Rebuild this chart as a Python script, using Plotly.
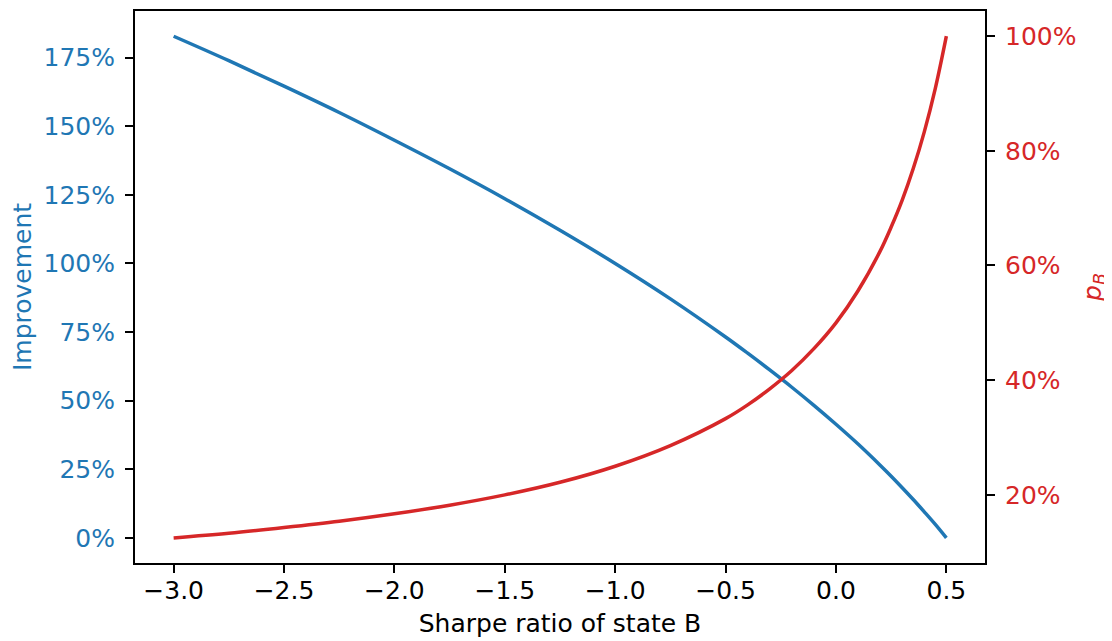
import plotly.graph_objects as go

# Sharpe ratio of state B (x values)
sharpe_b = [-3.0, -2.75, -2.5, -2.25, -2.0, -1.75, -1.5, -1.25, -1.0, -0.75, -0.5,
            -0.4, -0.3, -0.2, -0.1, 0.0, 0.1, 0.2, 0.25, 0.3, 0.35, 0.4, 0.45, 0.5]
# Improvement (left axis, fraction)
improvement = [1.828, 1.739, 1.646, 1.550, 1.449, 1.345, 1.236, 1.121, 1.000, 0.871, 0.732,
               0.673, 0.612, 0.549, 0.483, 0.414, 0.342, 0.265, 0.225, 0.183, 0.140, 0.095, 0.049, 0.000]
# p_B (right axis, fraction)
p_b = [0.125, 0.133, 0.143, 0.154, 0.167, 0.182, 0.200, 0.222, 0.250, 0.286, 0.333,
       0.357, 0.385, 0.417, 0.455, 0.500, 0.556, 0.625, 0.667, 0.714, 0.769, 0.833, 0.909, 1.000]

x_ticks = [-3.0, -2.5, -2.0, -1.5, -1.0, -0.5, 0.0, 0.5]
left_ticks = [0, 0.25, 0.5, 0.75, 1.0, 1.25, 1.5, 1.75]
right_ticks = [0.2, 0.4, 0.6, 0.8, 1.0]

BLUE = "#1f77b4"
RED = "#d62728"
FONT = "DejaVu Sans"
FS = 25

fig = go.Figure()
fig.add_trace(go.Scatter(x=sharpe_b, y=improvement, mode="lines",
                         line=dict(color=BLUE, width=3.5, shape="spline"),
                         showlegend=False, yaxis="y"))
fig.add_trace(go.Scatter(x=sharpe_b, y=p_b, mode="lines",
                         line=dict(color=RED, width=3.5, shape="spline"),
                         showlegend=False, yaxis="y2"))

axis_common = dict(showline=True, linecolor="black", linewidth=2, ticks="outside",
                   ticklen=8, tickwidth=2, tickcolor="black", showgrid=False,
                   zeroline=False, automargin=False)

# page body has an 8px default margin: figure is sized/offset to compensate
fig.update_layout(
    width=1104, height=633,
    margin=dict(l=127, r=127, t=3, b=78),
    paper_bgcolor="white", plot_bgcolor="white",
    font=dict(family=FONT, size=FS, color="black"),
    xaxis=dict(range=[-3.175, 0.675], tickvals=x_ticks, tickformat=".1f",
               mirror=True, ticklabelstandoff=-4,
               title=dict(text="Sharpe ratio of state B", font=dict(size=FS), standoff=10),
               **axis_common),
    yaxis=dict(range=[-0.0914, 1.920], tickvals=left_ticks, tickformat=".0%",
               tickfont=dict(color=BLUE, size=FS), ticklabelstandoff=5,
               title=dict(text="Improvement", font=dict(color=BLUE, size=FS), standoff=8),
               **axis_common),
    yaxis2=dict(range=[0.08125, 1.04375], tickvals=right_ticks, tickformat=".0%",
                overlaying="y", side="right", anchor="x",
                tickfont=dict(color=RED, size=FS), ticklabelstandoff=5,
                title=dict(text="<i>p</i><sub><i>B</i></sub>", font=dict(color=RED, size=FS), standoff=8),
                **axis_common),
)

fig.write_html("out.html")
